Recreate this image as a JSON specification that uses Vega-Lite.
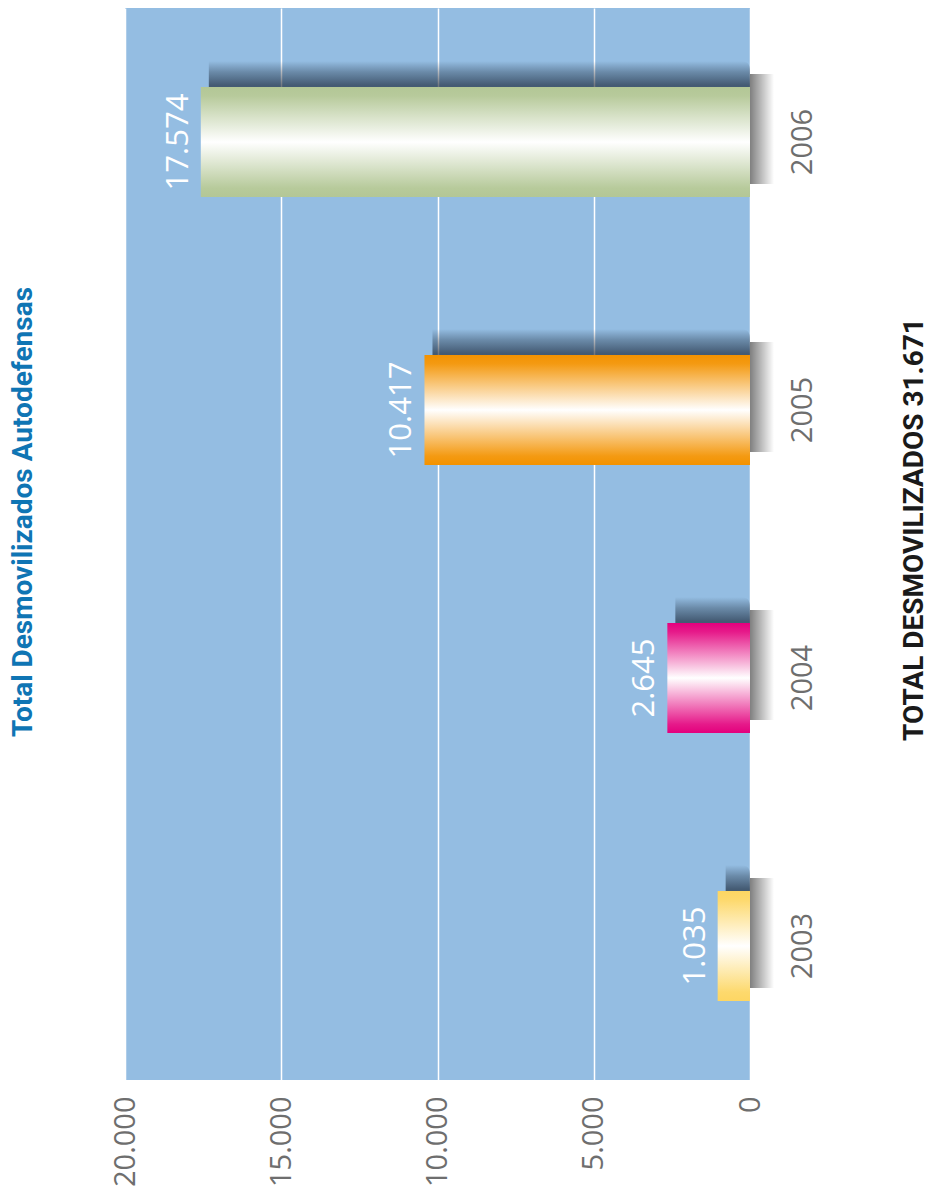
{
  "$schema": "https://vega.github.io/schema/vega-lite/v6.json",
  "width": 625,
  "height": 1072,
  "autosize": {"type": "none"},
  "padding": {"left": 125, "top": 8, "right": 182, "bottom": 123},
  "background": "white",
  "config": {"view": {"fill": "#94bde2", "stroke": null}},
  "title": {
    "text": "Total Desmovilizados Autodefensas",
    "orient": "left",
    "anchor": "middle",
    "font": "Roboto",
    "fontSize": 28,
    "fontWeight": "bold",
    "color": "#0f75b4",
    "offset": 73,
    "dx": 32
  },
  "data": {
    "values": [
      {"year": "2003", "value": 1035, "label": "1.035"},
      {"year": "2004", "value": 2645, "label": "2.645"},
      {"year": "2005", "value": 10417, "label": "10.417"},
      {"year": "2006", "value": 17574, "label": "17.574"}
    ]
  },
  "encoding": {
    "y": {
      "field": "year",
      "type": "nominal",
      "sort": ["2006", "2005", "2004", "2003"],
      "scale": {"paddingInner": 0.59, "paddingOuter": 0.295},
      "axis": {
        "orient": "right",
        "title": "TOTAL DESMOVILIZADOS 31.671",
        "labelAngle": 270,
        "labelAlign": "center",
        "labelBaseline": "top",
        "labelFont": "Open Sans",
        "labelFontSize": 29,
        "labelColor": "#6e6e6e",
        "labelPadding": 38,
        "ticks": false,
        "domain": false,
        "titleAngle": 270,
        "titleFont": "Roboto",
        "titleFontSize": 28,
        "titleFontWeight": "bold",
        "titleColor": "#1a1a1a",
        "titleBaseline": "top",
        "titleAlign": "center",
        "titleX": 150,
        "titleY": 521
      }
    },
    "x": {
      "field": "value",
      "type": "quantitative",
      "scale": {"domain": [0, 20000], "reverse": true, "nice": false},
      "axis": {
        "title": null,
        "values": [0, 5000, 10000, 15000, 20000],
        "labelExpr": "replace(format(datum.value, ','), ',', '.')",
        "labelAngle": 270,
        "labelAlign": "right",
        "labelBaseline": "middle",
        "labelFont": "Open Sans",
        "labelFontSize": 29,
        "labelColor": "#6e6e6e",
        "labelPadding": 16,
        "labelFlush": false,
        "labelOverlap": false,
        "labelBound": false,
        "ticks": false,
        "domain": false,
        "grid": true,
        "gridColor": "white",
        "gridWidth": 1.5,
        "gridOpacity": 1
      }
    }
  },
  "layer": [
    {
      "mark": {"type": "bar", "xOffset": 8, "yOffset": -26, "cornerRadius": 8, "fill": {"gradient": "linear", "x1": 0, "y1": 0, "x2": 0, "y2": 1, "stops": [
        {"offset": 0, "color": "rgba(10,20,35,0)"}, {"offset": 0.1, "color": "rgba(10,20,35,0.3)"}, {"offset": 0.22, "color": "rgba(10,20,35,0.58)"}, {"offset": 1, "color": "rgba(10,20,35,0.58)"}]}}
    },
    {
      "mark": {"type": "bar", "yOffset": -13, "x2Offset": 24, "fill": {"gradient": "linear", "x1": 0, "y1": 0, "x2": 1, "y2": 0, "stops": [
        {"offset": 0, "color": "rgba(0,0,0,0.5)"}, {"offset": 0.4, "color": "rgba(0,0,0,0.3)"}, {"offset": 1, "color": "rgba(0,0,0,0)"}]}},
      "encoding": {"x": {"datum": 0}, "x2": {"datum": 0}}
    },
    {
      "transform": [{"filter": "datum.year == '2006'"}],
      "mark": {"type": "bar", "fill": {"gradient": "linear", "x1": 0, "y1": 0, "x2": 0, "y2": 1, "stops": [
        {"offset": 0, "color": "#b3c796"}, {"offset": 0.08, "color": "#b7ca9b"}, {"offset": 0.5, "color": "#ffffff"}, {"offset": 0.92, "color": "#b7ca9b"}, {"offset": 1, "color": "#b3c796"}]}}
    },
    {
      "transform": [{"filter": "datum.year == '2005'"}],
      "mark": {"type": "bar", "fill": {"gradient": "linear", "x1": 0, "y1": 0, "x2": 0, "y2": 1, "stops": [
        {"offset": 0, "color": "#f39200"}, {"offset": 0.08, "color": "#f49a12"}, {"offset": 0.5, "color": "#ffffff"}, {"offset": 0.92, "color": "#f49a12"}, {"offset": 1, "color": "#f39200"}]}}
    },
    {
      "transform": [{"filter": "datum.year == '2004'"}],
      "mark": {"type": "bar", "fill": {"gradient": "linear", "x1": 0, "y1": 0, "x2": 0, "y2": 1, "stops": [
        {"offset": 0, "color": "#e4007d"}, {"offset": 0.08, "color": "#e61a8a"}, {"offset": 0.5, "color": "#ffffff"}, {"offset": 0.92, "color": "#e61a8a"}, {"offset": 1, "color": "#e4007d"}]}}
    },
    {
      "transform": [{"filter": "datum.year == '2003'"}],
      "mark": {"type": "bar", "fill": {"gradient": "linear", "x1": 0, "y1": 0, "x2": 0, "y2": 1, "stops": [
        {"offset": 0, "color": "#fdd663"}, {"offset": 0.08, "color": "#fdd96d"}, {"offset": 0.5, "color": "#ffffff"}, {"offset": 0.92, "color": "#fdd96d"}, {"offset": 1, "color": "#fdd663"}]}}
    },
    {
      "mark": {"type": "text", "angle": 270, "align": "center", "baseline": "bottom", "dy": -6, "font": "Open Sans", "fontSize": 31, "color": "white"},
      "encoding": {"text": {"field": "label"}}
    }
  ]
}
